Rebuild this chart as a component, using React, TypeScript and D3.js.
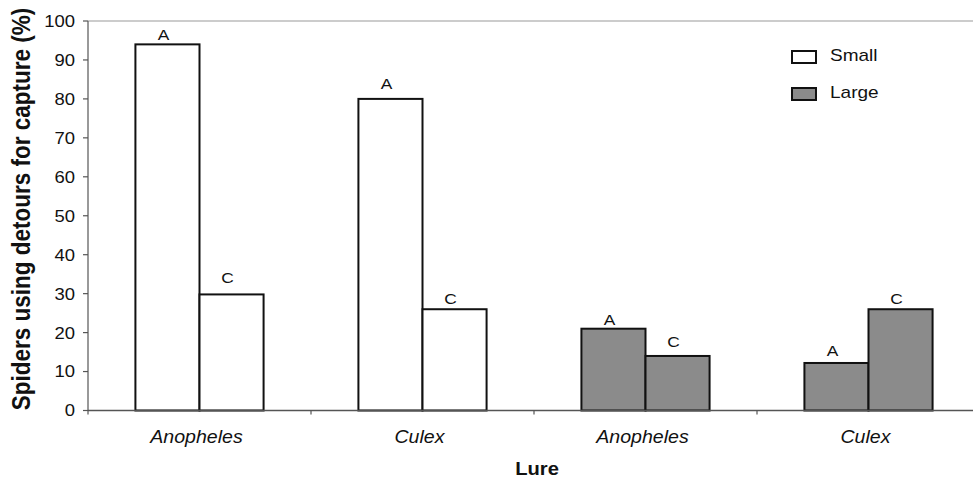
import React from "react";
import * as d3 from "d3";

const categories = ["Anopheles", "Culex", "Anopheles", "Culex"];
const groups = ["Small", "Small", "Large", "Large"];
const firstValues = [94, 80, 21, 12.2];
const secondValues = [29.8, 26, 14, 26];
const firstLetters = ["A", "A", "A", "A"];
const secondLetters = ["C", "C", "C", "C"];
const yTicks = [0, 10, 20, 30, 40, 50, 60, 70, 80, 90, 100];
const legendItems = ["Small", "Large"];
// gap (px) between bar top and letter baseline, as seen in the reference
const firstGaps = [4.5, 10, 4, 7];
const secondGaps = [11, 5, 9, 5];

const W = 973;
const H = 480;
const left = 88;
const right = 980;
const top = 21;
const bottom = 410.5;
const font = "'Liberation Sans', Arial, Helvetica, sans-serif";
const grey = "#8b8b8b";
const SX = 1.12;

function T(props: any) {
  const { x, y, sx = SX, children, ...rest } = props;
  return (
    <text transform={`translate(${x},${y}) scale(${sx},1)`} {...rest}>
      {children}
    </text>
  );
}

export default function App() {
  const idx = categories.map((_, i) => String(i));
  const x = d3.scaleBand().domain(idx).range([left, right]).paddingInner(0).paddingOuter(0);
  const y = d3.scaleLinear().domain([0, 100]).range([bottom, top]);
  const inner = d3.scaleBand().domain(["a", "b"]).range([0, x.bandwidth()]).paddingOuter(0.74).paddingInner(0);
  const fill = (g: string) => (g === "Small" ? "#ffffff" : grey);

  return (
    <svg width={W} height={H} style={{ position: "absolute", left: 0, top: 0, background: "#fff" }} fontFamily={font}>
      <line x1={left} x2={right} y1={top} y2={top} stroke="#999" strokeWidth={1.2} />
      {idx.map((k, i) => {
        const x0 = x(k)!;
        const bars = [
          { key: "a", v: firstValues[i], letter: firstLetters[i], gap: firstGaps[i] },
          { key: "b", v: secondValues[i], letter: secondLetters[i], gap: secondGaps[i] },
        ];
        return (
          <g key={k}>
            {bars.map((b) => {
              const bx = x0 + inner(b.key)!;
              const bw = inner.bandwidth();
              return (
                <g key={b.key}>
                  <rect x={bx} y={y(b.v)} width={bw} height={bottom - y(b.v)} fill={fill(groups[i])} stroke="#111" strokeWidth={2} />
                  <T x={bx + bw / 2 - 4} y={y(b.v) - b.gap} textAnchor="middle" fontSize={15.5} fill="#111">{b.letter}</T>
                </g>
              );
            })}
          </g>
        );
      })}
      <line x1={left} x2={left} y1={top} y2={bottom} stroke="#777" strokeWidth={1.5} />
      {yTicks.map((t) => (
        <g key={t}>
          <line x1={left - 5} x2={left} y1={y(t)} y2={y(t)} stroke="#555" strokeWidth={1.2} />
          <T x={left - 13} y={y(t)} dy="0.36em" textAnchor="end" fontSize={16.5} fill="#111">{t}</T>
        </g>
      ))}
      <line x1={left} x2={right} y1={bottom} y2={bottom} stroke="#555" strokeWidth={1.5} />
      {idx.map((k, i) => (
        <g key={k}>
          <line x1={x(k)!} x2={x(k)!} y1={bottom} y2={bottom + 4} stroke="#555" strokeWidth={1.2} />
          <T x={x(k)! + x.bandwidth() / 2 - 3} y={443} textAnchor="middle" fontSize={17.5} fontStyle="italic" fill="#111">{categories[i]}</T>
        </g>
      ))}
      <T x={537} y={475} textAnchor="middle" fontSize={18} fontWeight="bold" fill="#111">Lure</T>
      <text transform={`translate(30, 209) rotate(-90) scale(1, ${SX})`} textAnchor="middle" fontSize={22.5} fontWeight="bold" fill="#111">Spiders using detours for capture (%)</text>
      {legendItems.map((g, i) => (
        <g key={g} transform={`translate(792, ${51 + i * 37})`}>
          <rect x={0} y={0} width={24} height={12} fill={fill(g)} stroke="#111" strokeWidth={2} />
          <T x={38} y={9.7 + i * 0.3} fontSize={17} fill="#111">{g}</T>
        </g>
      ))}
    </svg>
  );
}
